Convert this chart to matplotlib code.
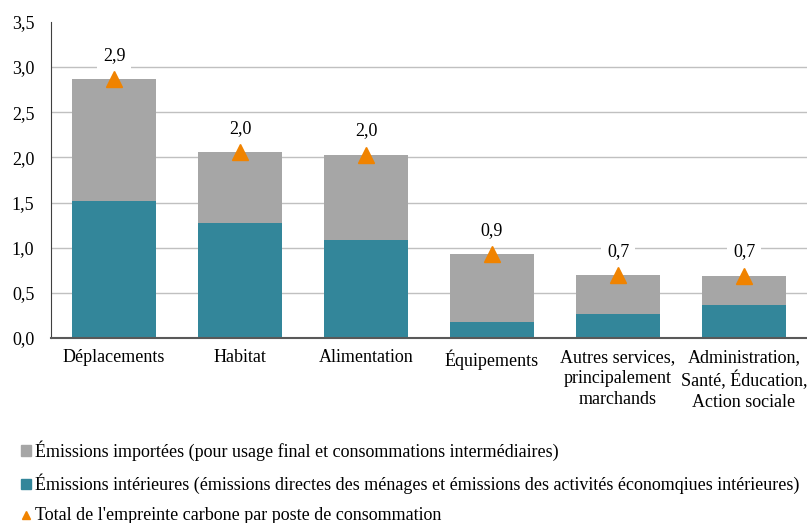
import matplotlib
matplotlib.use("Agg")
import matplotlib.pyplot as plt
from matplotlib.lines import Line2D
from matplotlib.patches import Patch

categories = ["Déplacements", "Habitat", "Alimentation", "Équipements",
              "Autres services,\nprincipalement\nmarchands",
              "Administration,\nSanté, Éducation,\nAction sociale"]
interieures = [1.52, 1.27, 1.085, 0.18, 0.265, 0.365]
importees = [1.35, 0.79, 0.945, 0.75, 0.435, 0.325]
totals = [2.87, 2.06, 2.03, 0.93, 0.70, 0.69]
total_labels = ["2,9", "2,0", "2,0", "0,9", "0,7", "0,7"]
yticks = [0.0, 0.5, 1.0, 1.5, 2.0, 2.5, 3.0, 3.5]

teal = "#33869A"
grey = "#A6A6A6"
orange = "#F08300"

plt.rcParams["font.family"] = ["Liberation Serif", "DejaVu Serif"]
plt.rcParams["font.size"] = 13

fig = plt.figure(figsize=(8.07, 5.23), dpi=100)
ax = fig.add_axes([0.0632, 0.3537, 0.9368, 0.6045])

x = list(range(len(categories)))
ax.bar(x, interieures, width=0.667, color=teal, zorder=2)
ax.bar(x, importees, width=0.667, bottom=interieures, color=grey, zorder=2)
ax.plot(x, totals, linestyle="none", marker="^", color=orange, ms=11, zorder=3)

for xi, t, lab in zip(x, totals, total_labels):
    ax.annotate(lab, (xi, t), xytext=(0, 17), textcoords="offset points",
                ha="center", va="center", fontsize=13,
                bbox=dict(boxstyle="square,pad=0.3", fc="white", ec="none"),
                zorder=4)

ax.set_xlim(-0.5, 5.5)
ax.set_ylim(0, 3.5)
ax.set_yticks(yticks)
ax.set_yticklabels([f"{v:.1f}".replace(".", ",") for v in yticks])
ax.set_xticks(x)
ax.set_xticklabels(categories, linespacing=1.3)
ax.tick_params(length=0, pad=8)
ax.tick_params(axis="y", pad=12)
for v in yticks[1:-1]:
    ax.axhline(v, color="#C0C0C0", lw=1, zorder=1)
for s in ["top", "right"]:
    ax.spines[s].set_visible(False)
ax.spines["left"].set_color("#404040")
ax.spines["bottom"].set_color("#595959")
ax.spines["bottom"].set_linewidth(1.5)

handles = [
    Patch(color=grey, label="Émissions importées (pour usage final et consommations intermédiaires)"),
    Patch(color=teal, label="Émissions intérieures (émissions directes des ménages et émissions des activités économqiues intérieures)"),
    Line2D([], [], linestyle="none", marker="^", color=orange, ms=6,
           label="Total de l'empreinte carbone par poste de consommation"),
]
fig.legend(handles=handles, loc="upper left", bbox_to_anchor=(0.026, 0.158),
           frameon=False, handlelength=0.55, handleheight=0.55, handletextpad=0.2,
           labelspacing=0.72, fontsize=13, borderaxespad=0, borderpad=0)

fig.savefig("out.png", dpi=100)
